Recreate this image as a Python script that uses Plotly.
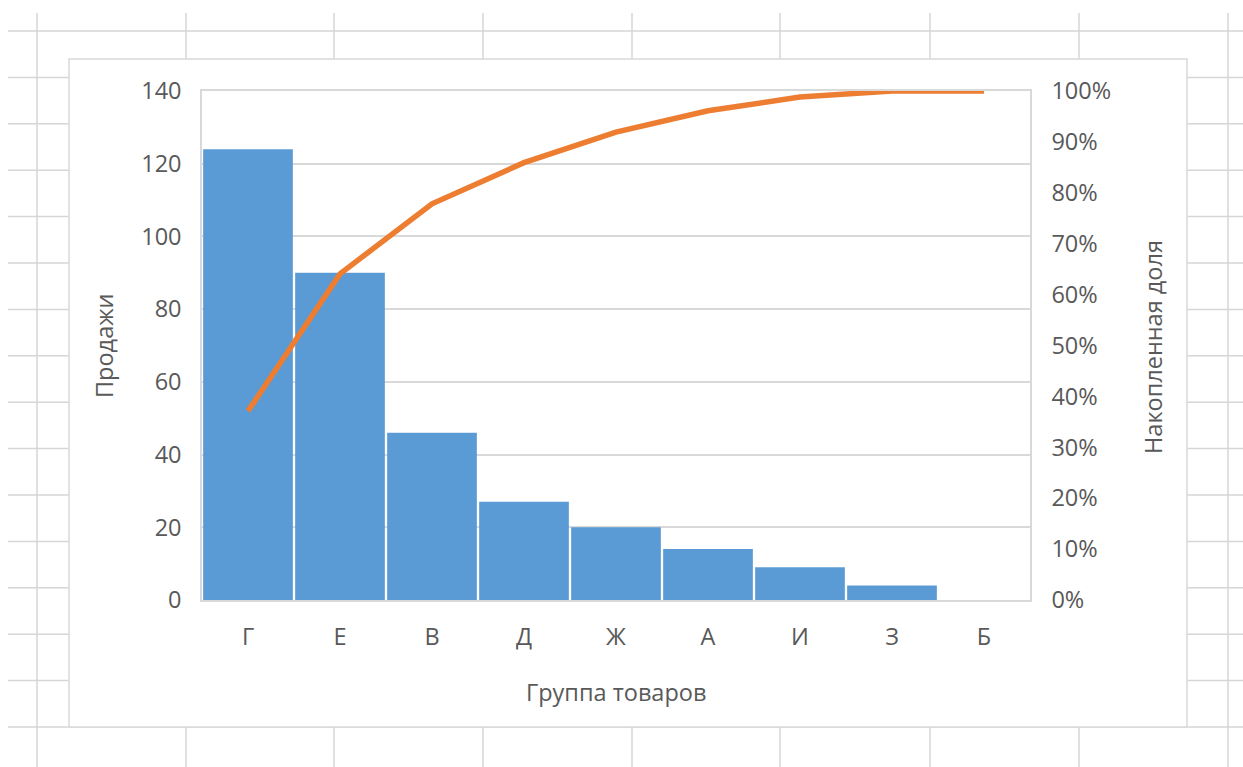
import plotly.graph_objects as go

# Sales by product group, sorted descending (Pareto)
categories = ["Г", "Е", "В", "Д", "Ж", "А", "И", "З", "Б"]
sales = [124, 90, 46, 27, 20, 14, 9, 4, 0]

total = sum(sales)
cum_share = []
running = 0
for v in sales:
    running += v
    cum_share.append(running / total)

left_ticks = [0, 20, 40, 60, 80, 100, 120, 140]
right_ticks = [i / 10 for i in range(11)]

W, H = 1243, 767
ML, MR, MT, MB = 202, 213, 91, 167
PW, PH = W - ML - MR, H - MT - MB

FONT = "Open Sans"
TXT = "#595959"
GRID = "#d9d9d9"
SHEET = "#d6d6d6"
TICK_SIZE = 23.5
TITLE_SIZE = 23.5


def px(x):
    return (x - ML) / PW


def py(y):
    return (H - MB - y) / PH


shapes = []
# spreadsheet cell grid behind the chart
for x in [37, 186, 334, 483, 632, 780, 930, 1079, 1228]:
    shapes.append(dict(type="line", xref="paper", yref="paper",
                       x0=px(x), x1=px(x), y0=py(13), y1=py(767),
                       line=dict(color=SHEET, width=1.5), layer="below"))
row = 31.0
while row <= 730:
    shapes.append(dict(type="line", xref="paper", yref="paper",
                       x0=px(8), x1=px(1243), y0=py(row), y1=py(row),
                       line=dict(color=SHEET, width=1.5), layer="below"))
    row += 46.4
# chart area
shapes.append(dict(type="rect", xref="paper", yref="paper",
                   x0=px(69), x1=px(1187), y0=py(59), y1=py(727),
                   fillcolor="white", line=dict(color=GRID, width=1.5),
                   layer="below"))

fig = go.Figure()
fig.add_trace(go.Bar(
    x=categories, y=sales, name="Продажи",
    marker=dict(color="#5B9BD5", line=dict(width=0)),
    yaxis="y",
))
fig.add_trace(go.Scatter(
    x=categories, y=cum_share, name="Накопленная доля",
    mode="lines", line=dict(color="#ED7D31", width=5.5),
    yaxis="y2",
))

fig.update_layout(
    width=W, height=H,
    margin=dict(l=ML, r=MR, t=MT, b=MB),
    paper_bgcolor="white",
    plot_bgcolor="rgba(0,0,0,0)",
    showlegend=False,
    bargap=0.025,
    font=dict(family=FONT, color=TXT, size=TICK_SIZE),
    shapes=shapes,
    xaxis=dict(
        showgrid=False, showline=True, linecolor=GRID, linewidth=1.5,
        mirror=True, ticks="", ticklabelstandoff=15,
        tickfont=dict(size=TICK_SIZE, color=TXT),
    ),
    yaxis=dict(
        range=[0, 140], tickvals=left_ticks, showgrid=True,
        gridcolor=GRID, gridwidth=1.5, showline=True, linecolor=GRID,
        linewidth=1.5, ticks="", zeroline=False, ticklabelstandoff=14,
        tickfont=dict(size=TICK_SIZE, color=TXT),
    ),
    yaxis2=dict(
        range=[0, 1], tickvals=right_ticks, tickformat=".0%",
        overlaying="y", side="right", showgrid=False, zeroline=False,
        showline=True, linecolor=GRID, linewidth=1.5, ticks="",
        ticklabelstandoff=15, tickfont=dict(size=TICK_SIZE, color=TXT),
    ),
    annotations=[
        dict(text="Группа товаров", xref="paper", yref="paper",
             x=px(616), y=py(692), xanchor="center", yanchor="middle",
             showarrow=False, font=dict(size=TITLE_SIZE, color=TXT)),
        dict(text="Продажи", xref="paper", yref="paper",
             x=px(104), y=py(346), xanchor="center", yanchor="middle",
             showarrow=False, textangle=-90,
             font=dict(size=TITLE_SIZE, color=TXT)),
        dict(text="Накопленная доля", xref="paper", yref="paper",
             x=px(1153), y=py(347), xanchor="center", yanchor="middle",
             showarrow=False, textangle=-90,
             font=dict(size=TITLE_SIZE, color=TXT)),
    ],
)

fig.write_html("out.html")
